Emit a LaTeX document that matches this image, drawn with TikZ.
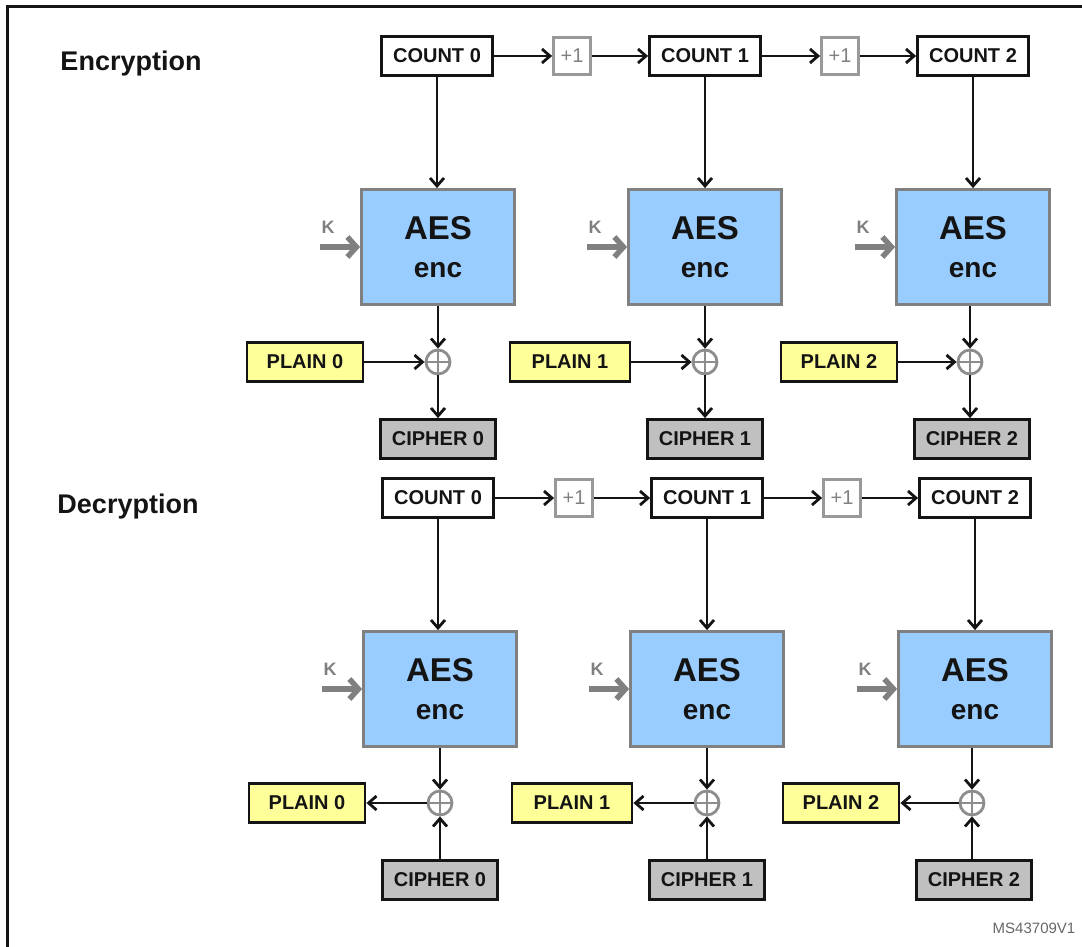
\documentclass[tikz,border=0pt]{standalone}
\usepackage{fontspec}
\setmainfont{Liberation Sans}
\usetikzlibrary{arrows.meta, positioning}

\definecolor{aesblue}{RGB}{153,204,255}
\definecolor{plainyellow}{RGB}{255,255,153}
\definecolor{ciphergray}{RGB}{192,192,192}
\definecolor{kgray}{RGB}{128,128,128}
\definecolor{ink}{RGB}{20,20,20}

\begin{document}
\begin{tikzpicture}[x=1pt, y=-1pt, >={Straight Barb[length=8pt, width=14pt]}, line width=2.8pt, draw=ink, text=ink]
        % Stiluri
        \tikzstyle{cnt} = [draw, rectangle, fill=white, minimum height=39pt, minimum width=111pt, inner sep=0pt, font=\fontsize{20}{22}\selectfont\bfseries]
        \tikzstyle{inc} = [draw=kgray!80, rectangle, minimum size=37pt, inner sep=0pt, text=kgray, font=\fontsize{20}{22}\selectfont]
        \tikzstyle{aes} = [draw=kgray, rectangle, fill=aesblue, minimum height=115pt, minimum width=153pt, align=center, inner sep=0pt, font=\fontsize{33}{38}\selectfont\bfseries]
        \tikzstyle{plain} = [draw, rectangle, fill=plainyellow, minimum height=39pt, minimum width=116pt, inner sep=0pt, font=\fontsize{20}{22}\selectfont\bfseries]
        \tikzstyle{cipher} = [draw, rectangle, fill=ciphergray, minimum height=39pt, minimum width=115pt, inner sep=0pt, font=\fontsize{20}{22}\selectfont\bfseries]
        \tikzstyle{xor} = [draw=kgray!90, circle, minimum size=24pt, inner sep=0pt,
            path picture={\draw[kgray!90, line width=2pt] (path picture bounding box.north) -- (path picture bounding box.south) (path picture bounding box.west) -- (path picture bounding box.east);}]
        \tikzstyle{karrow} = [draw=kgray, line width=5.5pt, -{Straight Barb[length=9pt, width=20pt]}]
        \tikzstyle{klbl} = [text=kgray, inner sep=0pt, font=\fontsize{18}{20}\selectfont\bfseries]
        \tikzstyle{lbl} = [inner sep=0pt, font=\fontsize{27}{30}\selectfont\bfseries]

        \useasboundingbox (0,0) rectangle (1082,947);
        \draw[line width=3pt] (7,960) -- (7,7) -- (1100,7);

        % --- CRIPTARE (Sus) ---
        \node [lbl] (enc) at (131,64) {Encryption};

        \node [cnt] (cnt0) at (437,56) {COUNT 0};
        \node [inc] (inc0) at (572,56) {+1};
        \node [cnt] (cnt1) at (705,56) {COUNT 1};
        \node [inc] (inc1) at (840,56) {+1};
        \node [cnt] (cnt2) at (973,56) {COUNT 2};

        \node [aes] (aes0) at (438,247) {AES\\{\fontsize{28}{38}\selectfont enc}};
        \node [aes] (aes1) at (705,247) {AES\\{\fontsize{28}{38}\selectfont enc}};
        \node [aes] (aes2) at (973,247) {AES\\{\fontsize{28}{38}\selectfont enc}};

        \node [xor] (xor0) at (438,362) {};
        \node [xor] (xor1) at (705,362) {};
        \node [xor] (xor2) at (970,362) {};

        \node [plain] (pl0) at (305,362) {PLAIN 0};
        \node [plain, minimum width=120pt] (pl1) at (570,362) {PLAIN 1};
        \node [plain] (pl2) at (839,362) {PLAIN 2};

        \node [cipher] (ci0) at (438,439) {CIPHER 0};
        \node [cipher] (ci1) at (705,439) {CIPHER 1};
        \node [cipher] (ci2) at (972,439) {CIPHER 2};

        \coordinate [left=40pt of aes0.west] (k0);
        \coordinate [left=40pt of aes1.west] (k1);
        \coordinate [left=40pt of aes2.west] (k2);
        \node [klbl, above right=12pt and 0pt of k0] (kl0) {K};
        \node [klbl, above right=12pt and 0pt of k1] (kl1) {K};
        \node [klbl, above right=12pt and 0pt of k2] (kl2) {K};

        \draw [->] (cnt0) -- (inc0);
        \draw [->] (inc0) -- (cnt1);
        \draw [->] (cnt1) -- (inc1);
        \draw [->] (inc1) -- (cnt2);

        \draw [->] (cnt0.south) -- (cnt0.south |- aes0.north);
        \draw [->] (cnt1) -- (aes1);
        \draw [->] (cnt2) -- (aes2);

        \draw [karrow] (k0) -- (aes0.west);
        \draw [karrow] (k1) -- (aes1.west);
        \draw [karrow] (k2) -- (aes2.west);

        \draw [->] (aes0) -- (xor0);
        \draw [->] (aes1) -- (xor1);
        \draw [->] (aes2.south -| xor2) -- (xor2);
        \draw [->] (pl0) -- (xor0);
        \draw [->] (pl1) -- (xor1);
        \draw [->] (pl2) -- (xor2);
        \draw [->] (xor0) -- (ci0);
        \draw [->] (xor1) -- (ci1);
        \draw [->] (xor2) -- (xor2 |- ci2.north);

        % --- DECRIPTARE (Jos) ---
        \node [lbl] (dec) at (128,507) {Decryption};

        \node [cnt] (dcnt0) at (438,498) {COUNT 0};
        \node [inc] (dinc0) at (574,498) {+1};
        \node [cnt] (dcnt1) at (707,498) {COUNT 1};
        \node [inc] (dinc1) at (842,498) {+1};
        \node [cnt] (dcnt2) at (975,498) {COUNT 2};

        \node [aes] (daes0) at (440,689) {AES\\{\fontsize{28}{38}\selectfont enc}};
        \node [aes] (daes1) at (707,689) {AES\\{\fontsize{28}{38}\selectfont enc}};
        \node [aes] (daes2) at (975,689) {AES\\{\fontsize{28}{38}\selectfont enc}};

        \node [xor] (dxor0) at (440,803) {};
        \node [xor] (dxor1) at (707,803) {};
        \node [xor] (dxor2) at (972,803) {};

        \node [plain] (dpl0) at (307,803) {PLAIN 0};
        \node [plain, minimum width=120pt] (dpl1) at (572,803) {PLAIN 1};
        \node [plain] (dpl2) at (841,803) {PLAIN 2};

        \node [cipher] (dci0) at (440,880) {CIPHER 0};
        \node [cipher] (dci1) at (707,880) {CIPHER 1};
        \node [cipher] (dci2) at (974,880) {CIPHER 2};

        \coordinate [left=40pt of daes0.west] (dk0);
        \coordinate [left=40pt of daes1.west] (dk1);
        \coordinate [left=40pt of daes2.west] (dk2);
        \node [klbl, above right=12pt and 0pt of dk0] (dkl0) {K};
        \node [klbl, above right=12pt and 0pt of dk1] (dkl1) {K};
        \node [klbl, above right=12pt and 0pt of dk2] (dkl2) {K};

        \draw [->] (dcnt0) -- (dinc0);
        \draw [->] (dinc0) -- (dcnt1);
        \draw [->] (dcnt1) -- (dinc1);
        \draw [->] (dinc1) -- (dcnt2);

        \draw [->] (dcnt0.south) -- (dcnt0.south |- daes0.north);
        \draw [->] (dcnt1) -- (daes1);
        \draw [->] (dcnt2) -- (daes2);

        \draw [karrow] (dk0) -- (daes0.west);
        \draw [karrow] (dk1) -- (daes1.west);
        \draw [karrow] (dk2) -- (daes2.west);

        \draw [->] (daes0) -- (dxor0);
        \draw [->] (daes1) -- (dxor1);
        \draw [->] (daes2.south -| dxor2) -- (dxor2);
        \draw [->] (dxor0) -- (dpl0);
        \draw [->] (dxor1) -- (dpl1);
        \draw [->] (dxor2) -- (dpl2);
        \draw [->] (dci0) -- (dxor0);
        \draw [->] (dci1) -- (dxor1);
        \draw [->] (dxor2 |- dci2.north) -- (dxor2);

        % --- COD FIGURA ---
        \node [text=kgray!120, inner sep=0pt, font=\fontsize{15}{18}\selectfont] (code) at (1034,928) {MS43709V1};

    \end{tikzpicture}
\end{document}
